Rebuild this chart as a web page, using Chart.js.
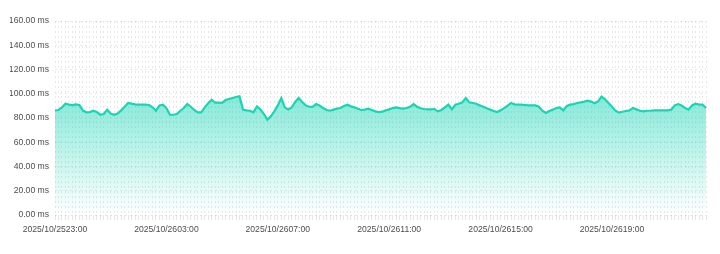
<!DOCTYPE html>
<html>
<head>
<meta charset="utf-8">
<script src="https://cdn.jsdelivr.net/npm/chart.js@4"></script>
<style>
    html, body { margin: 0; padding: 0; background: #fff; }
    #wrap { width: 720px; height: 254px; position: relative; }
</style>
</head>
<body>
<div id="wrap"><canvas id="myChart"></canvas></div>
<script>
// x tick labels, one every 32 samples (7.5 min per sample)
const tickLabels = ['2025/10/2523:00', '2025/10/2603:00', '2025/10/2607:00', '2025/10/2611:00', '2025/10/2615:00', '2025/10/2619:00'];
const tickEvery = 32;

// response time (ms)
const latency = [
    86.3, 86.6, 88.8, 91.8, 91.0, 90.7, 91.3, 90.7, 86.3, 84.7,
    84.9, 86.0, 84.9, 82.7, 83.3, 86.9, 83.6, 82.7, 83.6, 86.3,
    89.3, 92.4, 91.8, 91.3, 91.0, 91.0, 91.0, 90.7, 88.8, 86.0,
    90.4, 91.0, 88.2, 82.7, 82.7, 83.3, 86.0, 88.2, 91.5, 89.3,
    86.6, 84.7, 84.7, 88.8, 92.1, 95.1, 92.6, 92.6, 92.4, 94.8,
    95.7, 96.5, 97.3, 97.9, 86.9, 86.3, 86.0, 84.7, 89.6, 87.1,
    83.3, 78.6, 81.4, 85.5, 90.4, 96.5, 88.8, 87.1, 88.8, 93.2,
    96.5, 93.2, 90.4, 89.3, 89.1, 91.5, 90.4, 88.2, 86.6, 86.0,
    86.9, 87.7, 88.2, 89.9, 91.0, 89.6, 88.8, 87.7, 86.6, 86.9,
    87.7, 86.6, 85.5, 84.9, 85.2, 86.3, 87.1, 88.2, 88.8, 88.2,
    87.7, 88.2, 89.3, 91.5, 89.3, 88.0, 87.4, 87.1, 87.1, 87.4,
    85.5, 86.6, 88.8, 91.0, 87.1, 91.0, 91.8, 92.9, 96.5, 92.9,
    92.4, 91.8, 90.4, 89.3, 88.0, 86.9, 85.8, 84.9, 86.3, 88.2,
    90.2, 92.4, 91.3, 91.0, 91.0, 90.7, 90.4, 90.4, 90.4, 89.3,
    86.0, 84.1, 85.8, 86.9, 88.2, 88.8, 86.3, 89.9, 91.0, 91.5,
    92.4, 92.9, 93.5, 94.3, 93.5, 92.1, 93.7, 97.6, 95.4, 92.4,
    89.3, 86.0, 84.4, 85.2, 85.8, 86.3, 88.2, 87.1, 86.0, 85.5,
    86.0, 86.0, 86.3, 86.3, 86.3, 86.3, 86.3, 86.9, 90.4, 91.5,
    90.4, 88.2, 86.9, 90.4, 91.8, 91.0, 91.0, 88.2
];

const labels = latency.map((v, i) => i % tickEvery === 0 ? tickLabels[i / tickEvery] : '');

const gridColor = 'rgba(0, 0, 0, 0.09)';
const textColor = '#4d4d4d';
const font = { family: 'Helvetica, Arial, "Liberation Sans", sans-serif', size: 8.6 };

function fillGradient(context) {
    const area = context.chart.chartArea;
    if (!area) return 'rgba(26, 214, 183, 0.4)';
    const g = context.chart.ctx.createLinearGradient(0, area.top, 0, area.bottom);
    g.addColorStop(0, 'rgba(26, 214, 183, 0.65)');
    g.addColorStop(0.4, 'rgba(26, 214, 183, 0.52)');
    g.addColorStop(1, 'rgba(26, 214, 183, 0)');
    return g;
}

const ctx = document.getElementById('myChart').getContext('2d');
const myChart = new Chart(ctx, {
    type: 'line',
    data: {
        labels: labels,
        datasets: [{
            label: 'latency',
            data: latency,
            borderColor: '#1ad4b4',
            borderWidth: 2.2,
            backgroundColor: fillGradient,
            fill: 'origin',
            pointRadius: 0,
            tension: 0
        }]
    },
    options: {
        responsive: true,
        maintainAspectRatio: false,
        animation: false,
        layout: { padding: { left: 10, right: 14, top: 21, bottom: 0 } },
        plugins: {
            legend: { display: false },
            tooltip: { enabled: false }
        },
        scales: {
            x: {
                border: { display: false, dash: [2, 3] },
                grid: {
                    color: gridColor,
                    tickBorderDash: [],
                    tickColor: 'rgba(0, 0, 0, 0.1)',
                    tickLength: 5
                },
                ticks: {
                    autoSkip: false,
                    maxRotation: 0,
                    padding: 4,
                    color: textColor,
                    font: font
                },
                afterFit: scale => { scale.height = 39; }
            },
            y: {
                min: 0,
                max: 160,
                border: { display: false, dash: [2, 3] },
                grid: {
                    color: gridColor,
                    drawTicks: false
                },
                ticks: {
                    stepSize: 20,
                    padding: 6,
                    color: textColor,
                    font: font,
                    callback: v => v.toFixed(2) + ' ms'
                },
                afterFit: scale => { scale.width = 45; }
            }
        }
    }
});
</script>
</body>
</html>
